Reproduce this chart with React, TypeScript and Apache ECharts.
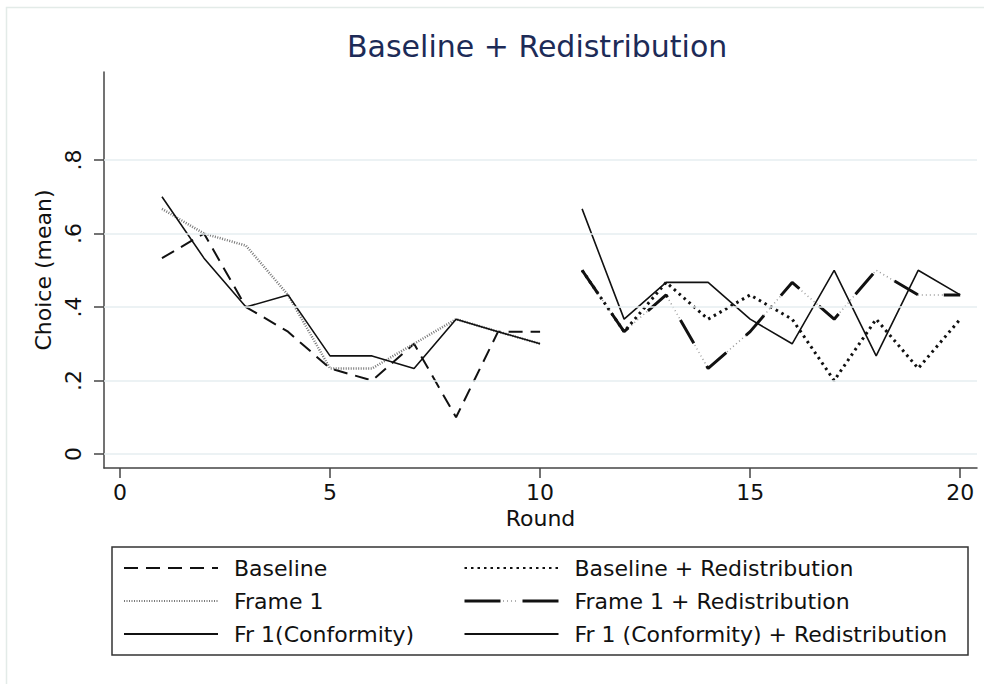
import React, { useEffect, useRef } from "react";
import * as echarts from "echarts";

const roundsA = [1, 2, 3, 4, 5, 6, 7, 8, 9, 10];
const roundsB = [11, 12, 13, 14, 15, 16, 17, 18, 19, 20];
const baseline = [0.533, 0.6, 0.4, 0.333, 0.233, 0.2, 0.3, 0.1, 0.333, 0.333];
const frame1 = [0.667, 0.6, 0.567, 0.433, 0.233, 0.233, 0.3, 0.367, 0.333, 0.3];
const conformity = [0.7, 0.533, 0.4, 0.433, 0.267, 0.267, 0.233, 0.367, 0.333, 0.3];
const baselineRedis = [0.5, 0.333, 0.467, 0.367, 0.433, 0.367, 0.2, 0.367, 0.233, 0.367];
const frame1Redis = [0.5, 0.333, 0.433, 0.233, 0.333, 0.467, 0.367, 0.5, 0.433, 0.433];
const conformityRedis = [0.667, 0.367, 0.467, 0.467, 0.367, 0.3, 0.5, 0.267, 0.5, 0.433];
const xTicks = [0, 5, 10, 15, 20];
const yTicks = [0, 0.2, 0.4, 0.6, 0.8];
const yTickLabels = ["0", ".2", ".4", ".6", ".8"];

const FONT = "DejaVu Sans";

const pairs = (xs: number[], ys: number[]) => xs.map((x, i) => [x, ys[i]]);

export default function App() {
  const ref = useRef<HTMLDivElement>(null);
  useEffect(() => {
    document.body.style.margin = "0";
    const chart = echarts.init(ref.current!, undefined, { renderer: "svg" });
    const lineBase = (name: string, xs: number[], ys: number[], ls: any, z = 3) => ({
      name,
      type: "line",
      data: pairs(xs, ys),
      symbol: "none",
      z,
      lineStyle: ls,
      itemStyle: { color: ls.color },
      emphasis: { disabled: true },
    });
    const legendCommon = {
      orient: "vertical",
      top: 557,
      itemWidth: 94,
      itemHeight: 22,
      itemGap: 11,
      padding: 0,
      selectedMode: false,
      itemStyle: { opacity: 0 },
      textStyle: { fontFamily: FONT, fontSize: 22, color: "#111", padding: [0, 0, 0, 11] },
    };
    chart.setOption({
      animation: false,
      title: {
        text: "Baseline + Redistribution",
        left: 342,
        top: 26,
        textStyle: { fontFamily: FONT, fontSize: 30, fontWeight: "normal", color: "#1d2b57" },
      },
      grid: { left: 104, right: 7, top: 72, bottom: 216, containLabel: false },
      xAxis: {
        type: "value",
        min: -0.38,
        max: 20.4,
        name: "Round",
        nameLocation: "middle",
        nameGap: 36,
        nameTextStyle: { fontFamily: FONT, fontSize: 22, color: "#111" },
        axisLine: { show: true, onZero: false, lineStyle: { color: "#444", width: 1.5 } },
        axisTick: { show: true, customValues: xTicks, length: 10, lineStyle: { color: "#444", width: 1.5 } },
        axisLabel: { customValues: xTicks, fontFamily: FONT, fontSize: 22, color: "#111", margin: 13 },
        splitLine: { show: false },
      },
      yAxis: {
        type: "value",
        min: -0.038,
        max: 1.0395,
        name: "Choice (mean)",
        nameLocation: "middle",
        nameRotate: 90,
        nameGap: 45,
        nameTextStyle: { fontFamily: FONT, fontSize: 22, color: "#111" },
        axisLine: { show: true, onZero: false, lineStyle: { color: "#444", width: 1.5 } },
        axisTick: { show: true, customValues: yTicks, length: 10, lineStyle: { color: "#444", width: 1.5 } },
        axisLabel: {
          customValues: yTicks,
          rotate: 90,
          fontFamily: FONT,
          fontSize: 22,
          color: "#111",
          margin: 20,
          formatter: (v: number) => {
            const i = yTicks.findIndex((t) => Math.abs(t - v) < 1e-6);
            return i >= 0 ? yTickLabels[i] : "";
          },
        },
        splitLine: { show: false },
      },
      legend: [
        { ...legendCommon, left: 123, data: ["Baseline", "Frame 1", "Fr 1(Conformity)"] },
        {
          ...legendCommon,
          left: 463,
          data: [
            "Baseline + Redistribution",
            { name: "Frame 1 + Redistribution", lineStyle: { type: [36, 22], width: 3 } },
            "Fr 1 (Conformity) + Redistribution",
          ],
        },
      ],
      graphic: [
        {
          type: "rect",
          silent: true,
          z: -10,
          shape: { x: 6.5, y: 7.5, width: 1000, height: 700 },
          style: { fill: "none", stroke: "#e3ebe8", lineWidth: 1.5 },
        },
        {
          type: "rect",
          silent: true,
          shape: { x: 112, y: 547, width: 856, height: 108 },
          style: { fill: "none", stroke: "#333", lineWidth: 1.5 },
        },
        {
          type: "line",
          silent: true,
          z: 100,
          shape: { x1: 503, y1: 601, x2: 518, y2: 601 },
          style: { stroke: "#999", lineWidth: 1.5, lineDash: [1, 3] },
        },
      ],
      series: [
        {
          name: "gridlines",
          type: "line",
          data: [],
          z: 1,
          silent: true,
          markLine: {
            silent: true,
            symbol: ["none", "none"],
            label: { show: false },
            lineStyle: { color: "#e6eef1", width: 1.5, type: "solid" },
            data: yTicks.map((v) => ({ yAxis: v })),
          },
        },
        lineBase("Baseline", roundsA, baseline, { color: "#111", width: 2, type: [14, 8] }),
        lineBase("Frame 1", roundsA, frame1, { color: "#777", width: 2.5, type: [1, 1.5] }),
        lineBase("Fr 1(Conformity)", roundsA, conformity, { color: "#111", width: 1.6, type: "solid" }),
        lineBase("Baseline + Redistribution", roundsB, baselineRedis, { color: "#111", width: 3, type: [2.5, 4] }),
        lineBase("Frame 1 + Redistribution dots", roundsB, frame1Redis, { color: "#999", width: 1.5, type: [1, 3] }, 2),
        lineBase("Frame 1 + Redistribution", roundsB, frame1Redis, { color: "#111", width: 3, type: [27, 26] }),
        lineBase("Fr 1 (Conformity) + Redistribution", roundsB, conformityRedis, { color: "#111", width: 1.6, type: "solid" }),
      ],
    });
    return () => chart.dispose();
  }, []);
  return <div ref={ref} style={{ width: 984, height: 684 }} />;
}
